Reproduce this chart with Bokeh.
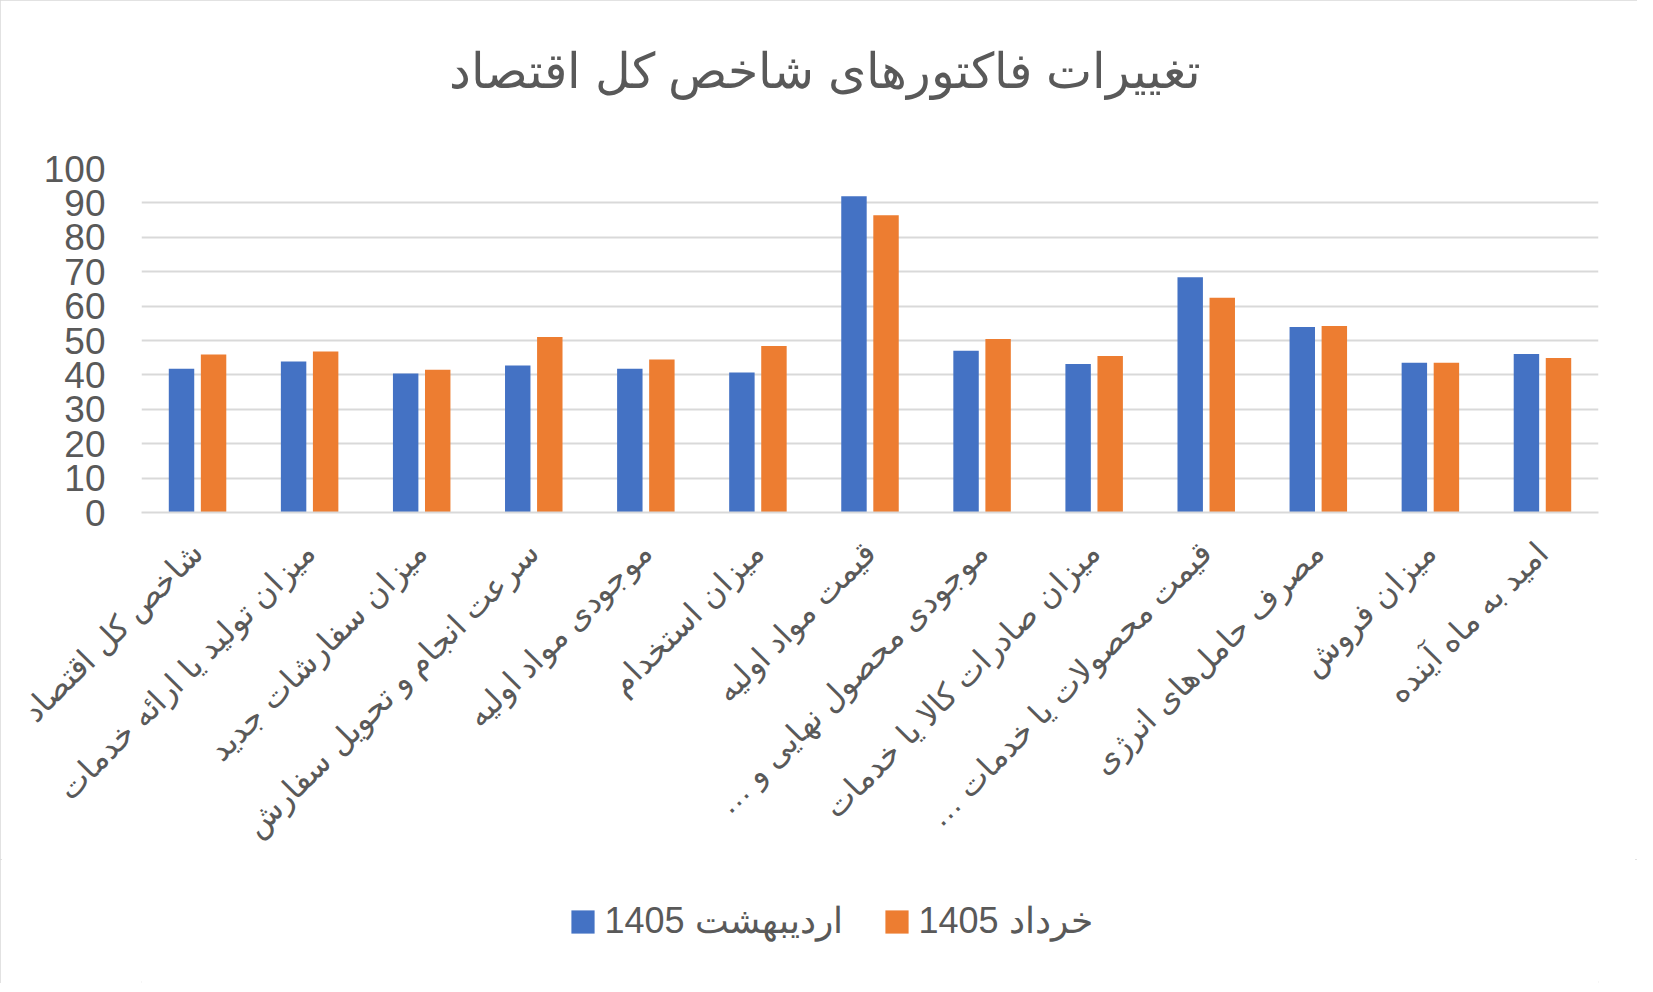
import math
from bokeh.plotting import figure
from bokeh.layouts import column
from bokeh.models import (FactorRange, Range1d, Legend, LegendItem,
                          ColumnDataSource, FixedTicker, Title)
from bokeh.transform import dodge
from bokeh.embed import file_html
from bokeh.resources import INLINE

RLM = "\u200f"
categories = [
    "شاخص کل اقتصاد",
    "میزان تولید یا ارائه خدمات",
    "میزان سفارشات جدید",
    "سرعت انجام و تحویل سفارش",
    "موجودی مواد اولیه",
    "میزان استخدام",
    "قیمت مواد اولیه",
    "موجودی محصول نهایی و …" + RLM,
    "میزان صادرات کالا یا خدمات",
    "قیمت محصولات یا خدمات …" + RLM,
    "مصرف حامل‌های انرژی",
    "میزان فروش",
    "امید به ماه آینده",
]
ordibehesht = [41.8, 43.9, 40.4, 42.7, 41.8, 40.7, 91.9, 47.0, 43.2, 68.4, 53.9, 43.5, 46.1]
khordad = [45.9, 46.8, 41.5, 51.0, 44.5, 48.4, 86.4, 50.4, 45.5, 62.4, 54.2, 43.5, 44.9]
series_names = ["اردیبهشت 1405", "خرداد 1405"]
y_ticks = [0, 10, 20, 30, 40, 50, 60, 70, 80, 90, 100]
title_text = "تغییرات فاکتورهای شاخص کل اقتصاد"

BLUE = "#4472C4"
ORANGE = "#ED7D31"
GRAY_TEXT = "#595959"
GRID = "#D9D9D9"
FONT = "Liberation Sans"

src = ColumnDataSource(dict(cat=categories, a=ordibehesht, b=khordad))

p = figure(x_range=FactorRange(factors=categories, range_padding=0),
           y_range=Range1d(0, 100),
           frame_width=1457, frame_height=344,
           output_backend="svg", toolbar_location=None,
           min_border_left=141, min_border_right=39,
           min_border_top=168, min_border_bottom=0)

r1 = p.vbar(x=dodge("cat", -0.143, range=p.x_range), top="a", width=0.227,
            source=src, fill_color=BLUE, line_color=None)
r2 = p.vbar(x=dodge("cat", 0.143, range=p.x_range), top="b", width=0.227,
            source=src, fill_color=ORANGE, line_color=None)

p.outline_line_color = None
p.xgrid.visible = False
p.ygrid.grid_line_color = GRID
p.ygrid.grid_line_width = 2
p.ygrid.ticker = FixedTicker(ticks=y_ticks)

p.yaxis.ticker = FixedTicker(ticks=y_ticks)
p.yaxis.axis_line_color = None
p.yaxis.major_tick_line_color = None
p.yaxis.minor_tick_line_color = None
p.yaxis.major_label_text_font_size = "37px"
p.yaxis.major_label_text_color = GRAY_TEXT
p.yaxis.major_label_text_font = FONT
p.yaxis.major_label_standoff = 30

p.xaxis.axis_line_color = GRID
p.xaxis.axis_line_width = 2
p.xaxis.major_tick_line_color = None
p.xaxis.minor_tick_line_color = None
p.xaxis.major_label_orientation = math.pi / 4
p.xaxis.major_label_text_font_size = "32px"
p.xaxis.major_label_text_color = GRAY_TEXT
p.xaxis.major_label_text_font = FONT
p.xaxis.major_label_standoff = 29

p.title.text = title_text
p.title.align = "right"
p.title.offset = 398
p.title.text_font_size = "49px"
p.title.text_font_style = "normal"
p.title.text_color = GRAY_TEXT
p.title.text_font = FONT
p.title.standoff = 10

# spacer panel between the frame and the title (added later -> nearer the frame)
spacer = Title(text=" ", text_font_size="10px", standoff=53)
p.add_layout(spacer, "above")

# legend strip below the chart (its bars lie outside the strip's visible range)
lg = figure(width=1637, height=124,
            x_range=FactorRange(factors=categories, range_padding=0),
            y_range=Range1d(1000, 1001),
            output_backend="svg", toolbar_location=None,
            min_border_left=0, min_border_right=0,
            min_border_top=0, min_border_bottom=0)
lg.axis.visible = False
lg.grid.visible = False
lg.outline_line_color = None
k1 = lg.vbar(x=dodge("cat", -0.143, range=lg.x_range), top="a", width=0.227,
             source=src, fill_color=BLUE, line_color=None)
k2 = lg.vbar(x=dodge("cat", 0.143, range=lg.x_range), top="b", width=0.227,
             source=src, fill_color=ORANGE, line_color=None)

legend = Legend(items=[LegendItem(label=series_names[0], renderers=[k1]),
                       LegendItem(label=series_names[1], renderers=[k2])],
                orientation="horizontal", location="center",
                glyph_width=29, glyph_height=29, label_standoff=8, spacing=24,
                label_width=253,
                padding=0, margin=0, border_line_color=None,
                background_fill_alpha=0,
                label_text_font_size="36px", label_text_color=GRAY_TEXT,
                label_text_font=FONT)
lg.add_layout(legend, "center")

page = column(p, lg, spacing=0,
              styles={"outline": "2px solid #D9D9D9", "outline-offset": "-2px"})

open("out.html", "w").write(file_html(page, INLINE))
